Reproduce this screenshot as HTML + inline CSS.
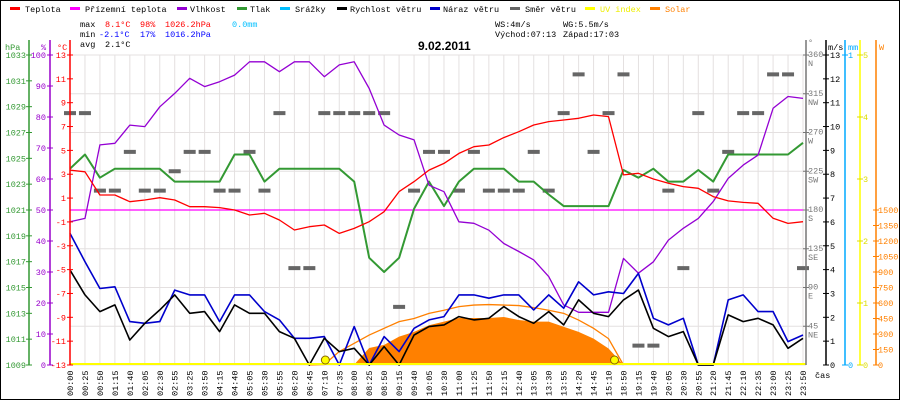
<!DOCTYPE html>
<html><head><meta charset="utf-8"><style>
body{margin:0;background:#fff}
svg{display:block;font-family:"Liberation Mono","DejaVu Sans Mono",monospace}
</style></head><body>
<svg id="c" width="900" height="400" viewBox="0 0 900 400" xmlns="http://www.w3.org/2000/svg">
<rect x="0.5" y="0.5" width="899" height="399" fill="#fff" stroke="#000"/>
<g id="grid"></g>
<g id="series"></g>
<g id="axes"></g>
<g font-size="8.5">
<g><rect x="10" y="7" width="10" height="3" fill="#f00"/><text x="25" y="12">Teplota</text></g>
<g><rect x="70" y="7" width="10" height="3" fill="#f0f"/><text x="85" y="12">Přízemní teplota</text></g>
<g><rect x="177" y="7" width="10" height="3" fill="#9400d3"/><text x="190" y="12">Vlhkost</text></g>
<g><rect x="237" y="7" width="10" height="3" fill="#339933"/><text x="250" y="12">Tlak</text></g>
<g><rect x="280" y="7" width="10" height="3" fill="#00bfff"/><text x="295" y="12">Srážky</text></g>
<g><rect x="337" y="7" width="10" height="3" fill="#000"/><text x="350" y="12">Rychlost větru</text></g>
<g><rect x="430" y="7" width="10" height="3" fill="#0000cc"/><text x="443" y="12">Náraz větru</text></g>
<g><rect x="510" y="7" width="10" height="3" fill="#666"/><text x="525" y="12">Směr větru</text></g>
<g><rect x="585" y="7" width="10" height="3" fill="#ff0"/><text x="600" y="12" fill="#ee0">UV index</text></g>
<g><rect x="650" y="7" width="10" height="3" fill="#ff8000"/><text x="665" y="12" fill="#ff8000">Solar</text></g>
</g>
<g font-size="8.5">
<text x="80" y="27">max</text><text x="105" y="27" fill="#f00">8.1°C</text><text x="140" y="27" fill="#f00">98%</text><text x="165" y="27" fill="#f00">1026.2hPa</text><text x="232" y="27" fill="#00bfff">0.0mm</text>
<text x="80" y="37">min</text><text x="99" y="37" fill="#00f">-2.1°C</text><text x="140" y="37" fill="#00f">17%</text><text x="165" y="37" fill="#00f">1016.2hPa</text>
<text x="80" y="47">avg</text><text x="105" y="47">2.1°C</text>
<text x="495" y="27">WS:4m/s</text><text x="563" y="27">WG:5.5m/s</text>
<text x="495" y="37">Východ:07:13</text><text x="563" y="37">Západ:17:03</text>
</g>
<text x="418" y="50" font-size="12" font-weight="bold" font-family="Liberation Sans, sans-serif">9.02.2011</text>
<text x="815" y="378" font-size="8.5">čas</text>
</svg>
<script>
const labels=["00:00","00:25","00:50","01:15","01:40","02:05","02:30","02:55","03:25","03:50","04:15","04:40","05:05","05:30","05:55","06:20","06:45","07:10","07:35","08:00","08:25","08:50","09:15","09:40","10:05","10:30","11:00","11:25","11:50","12:15","12:40","13:05","13:30","13:55","14:20","14:45","15:10","18:50","19:15","19:40","20:05","20:30","20:55","21:20","21:45","22:10","22:35","23:00","23:25","23:50"];
const temp=[3.35,3.2,1.26,1.26,0.7,0.84,1.03,0.84,0.28,0.28,0.2,0.0,-0.42,-0.28,-0.84,-1.68,-1.4,-1.26,-1.96,-1.54,-0.98,-0.14,1.54,2.38,3.35,3.91,4.75,5.31,5.45,6.07,6.57,7.13,7.41,7.55,7.69,7.97,7.83,2.94,3.08,2.6,2.24,1.96,1.82,1.12,0.76,0.64,0.56,-0.7,-1.12,-0.98];
const groundTemp=[0,0,0,0,0,0,0,0,0,0,0,0,0,0,0,0,0,0,0,0,0,0,0,0,0,0,0,0,0,0,0,0,0,0,0,0,0,0,0,0,0,0,0,0,0,0,0,0,0,0];
const hum=[46.2,47.3,71,71.5,77.4,76.9,83.3,87.6,92.5,89.8,91.4,93.5,97.8,97.8,94.6,97.8,97.8,93,96.8,97.8,89.2,77.4,74.2,72.6,58,55.9,46.2,45.7,43.5,39.2,36.6,33.9,28.5,19.4,17,17,17,34.4,29.6,33.3,40.3,44.1,47.3,52.7,60.2,64.5,67.7,82.8,86.6,86];
const pres=[1024.2,1025.3,1023.5,1024.2,1024.2,1024.2,1024.2,1023.2,1023.2,1023.2,1023.2,1025.3,1025.3,1023.2,1024.2,1024.2,1024.2,1024.2,1024.2,1023.2,1017.3,1016.2,1017.3,1021.1,1023.2,1021.3,1023.2,1024.2,1024.2,1024.2,1023.2,1023.2,1022.2,1021.3,1021.3,1021.3,1021.3,1024.1,1023.5,1024.2,1023.2,1023.2,1024.1,1023.2,1025.3,1025.3,1025.3,1025.3,1025.3,1026.2];
const wind=[3.98,2.94,2.24,2.52,1.05,1.75,2.31,2.94,2.17,2.24,1.4,2.52,2.17,2.17,1.4,1.12,0,1.12,0.56,0.7,0,0.77,0,1.26,1.61,1.68,2.03,1.89,1.96,2.45,2.03,1.75,2.24,1.68,2.73,2.17,2.03,2.73,3.14,1.54,1.19,1.4,0,0,2.1,1.82,1.96,1.68,0.7,1.12];
const gust=[5.52,4.33,3.21,3.28,1.82,1.75,1.82,3.14,2.94,2.94,1.82,2.94,2.94,2.24,1.89,1.12,1.12,1.19,0,1.61,0,1.19,0.56,1.54,1.89,2.03,2.94,2.94,2.8,2.94,2.94,2.31,2.94,2.38,3.49,2.94,3.07,3.0,3.84,1.96,1.68,1.96,0,0,2.73,2.94,2.24,2.24,0.98,1.26];
const dir=[292.5,292.5,202.5,202.5,247.5,202.5,202.5,225,247.5,247.5,202.5,202.5,247.5,202.5,292.5,112.5,112.5,292.5,292.5,292.5,292.5,292.5,67.5,202.5,247.5,247.5,202.5,247.5,202.5,202.5,202.5,247.5,202.5,292.5,337.5,247.5,292.5,337.5,22.5,22.5,202.5,112.5,292.5,202.5,247.5,292.5,292.5,337.5,337.5,112.5];
const solar=[0,0,0,0,0,0,0,0,0,0,0,0,0,0,0,0,0,0,0,5,165,195,275,320,385,420,455,455,455,465,435,420,420,370,320,255,160,0,0,0,0,0,0,0,0,0,0,0,0,0];
const solarMax=[0,0,0,0,0,0,0,0,0,0,0,0,0,0,0,0,0,5,130,210,290,355,420,450,500,530,565,580,585,580,575,555,530,500,435,355,255,0,0,0,0,0,0,0,0,0,0,0,0,0];
const sunEvents=[17.07,36.4];
const pressTicks=[1033,1031,1029,1027,1025,1023,1021,1019,1017,1015,1013,1011,1009];
const humTicks=[100,90,80,70,60,50,40,30,20,10,0];
const tempTicks=[13,11,9,7,5,3,1,-1,-3,-5,-7,-9,-11,-13];
const dirTicks=[360,315,270,225,180,135,90,45];
const dirNames=["N","NW","W","SW","S","SE","E","NE"];
const windTicks=[0,1,2,3,4,5,6,7,8,9,10,11,12,13];
const uvTicks=[0,1,2,3,4,5];
const solarTicks=[0,150,300,450,600,750,900,1050,1200,1350,1500];

const NS="http://www.w3.org/2000/svg";
const X0=70,DX=(803-70)/49,TOP=55,BOT=365,H=310;
const xAt=i=>X0+i*DX;
const yT=t=>TOP+(13-t)*H/26;
const yH=h=>BOT-h*H/100;
const yP=p=>BOT-(p-1009)*H/24;
const yW=v=>BOT-v*H/13;
const yD=d=>BOT-d*H/360;
const yS=w=>BOT-w*H/3000;
const yU=u=>BOT-u*H/5;
function mk(tag,attrs,parent,txt){const e=document.createElementNS(NS,tag);for(const k in attrs)e.setAttribute(k,attrs[k]);if(txt!==undefined)e.textContent=txt;parent.appendChild(e);return e;}
const grid=document.getElementById('grid'),ser=document.getElementById('series'),ax=document.getElementById('axes');

for(let i=0;i<labels.length;i++){
  const l=mk('line',{x1:xAt(i),x2:xAt(i),y1:TOP,y2:BOT,stroke:'#e4e0e0'},grid);
  
  
  const t=mk('text',{x:0,y:0,'font-size':'8.5',transform:`translate(${xAt(i)+3},396) rotate(-90)`},ax,labels[i]);
  
  
}
for(let k=0;k<=8;k++){
  const y=TOP+k*H/8;
  const l=mk('line',{x1:X0,x2:806,y1:y,y2:y,stroke:'#e4e0e0'},grid);
  
  
}

let pts=[[xAt(0),BOT]];solar.forEach((v,i)=>pts.push([xAt(i),yS(v)]));pts.push([xAt(solar.length-1),BOT]);
const sf=mk('polygon',{points:pts.map(p=>p.join(',')).join(' '),fill:'#ff8000',stroke:'none'},ser);


let mp=[];let first=solarMax.findIndex(v=>v>0);let last=solarMax.length-1;while(last>0&&solarMax[last]===0)last--;
for(let i=Math.max(first-1,0);i<=last+1;i++)mp.push([xAt(i),yS(solarMax[i])]);
const sm=mk('polyline',{points:mp.map(p=>p.join(',')).join(' '),fill:'none',stroke:'#ff8000','stroke-width':1.3},ser);



dir.forEach((d,i)=>{
  const r=mk('rect',{x:xAt(i)-6,y:yD(d)-2,width:12,height:4,fill:'#666'},ser);
  
  
});

function line(arr,fy,color,w,name){
  const p=arr.map((v,i)=>xAt(i).toFixed(1)+','+fy(v).toFixed(1)).join(' ');
  const e=mk('polyline',{points:p,fill:'none',stroke:color,'stroke-width':w,'stroke-linejoin':'round'},ser);
  
  
}
line(groundTemp,yT,'#ff00ff',1.2,'ground-temperature-line');
line(pres,yP,'#339933',2,'pressure-line');
line(hum,yH,'#9400d3',1.3,'humidity-line');
line(temp,yT,'#ff0000',1.3,'temperature-line');
line(gust,yW,'#0000cc',1.6,'wind-gust-line');
line(wind,yW,'#000000',1.6,'wind-speed-line');
const uv=mk('line',{x1:X0,x2:806,y1:BOT-1,y2:BOT-1,stroke:'#ffff00','stroke-width':2},ser);


sunEvents.forEach(s=>{
  const c=mk('circle',{cx:xAt(s),cy:BOT-5,r:4,fill:'#ffff00',stroke:'#886600','stroke-width':1},ser);
  
  
});

function axis(x,y1,color,name){const l=mk('line',{x1:x,x2:x,y1:y1,y2:BOT,stroke:color,'stroke-width':1.5},ax);}
function tick(x,y,color){mk('line',{x1:x-3,x2:x+3,y1:y,y2:y,stroke:color},ax);}
function lab(x,y,txt,color,anchor,name){const t=mk('text',{x:x,y:y+3,'font-size':'8.5',fill:color,'text-anchor':anchor},ax,txt);}
axis(29,40,'#339933','pressure-axis');axis(50,40,'#9900cc','humidity-axis');axis(70,40,'#ff0000','temperature-axis');
axis(806,40,'#777','direction-axis');axis(826,40,'#000','wind-axis');axis(845,40,'#00aaff','rain-axis');axis(860,40,'#ffff00','uv-axis');axis(876,40,'#ff8000','solar-axis');
lab(5,47,'hPa','#339933','start','pressure-axis-title');lab(41,47,'%','#9900cc','start','humidity-axis-title');lab(57,47,'°C','#ff0000','start','temperature-axis-title');
lab(808,42,'°','#777','start','direction-axis-title');lab(828,47,'m/s','#000','start','wind-axis-title');lab(848,47,'mm','#00aaff','start','rain-axis-title');lab(879,47,'W','#ff8000','start','solar-axis-title');
pressTicks.forEach(p=>{tick(29,yP(p),'#339933');lab(26,yP(p),String(p),'#339933','end','pressure-tick-label');});
humTicks.forEach(h=>{tick(50,yH(h),'#9900cc');lab(46,yH(h),String(h),'#9900cc','end','humidity-tick-label');});
tempTicks.forEach(t=>{tick(70,yT(t),'#ff0000');lab(66,yT(t),String(t),'#ff0000','end','temperature-tick-label');});
dirTicks.forEach((d,i)=>{tick(806,yD(d),'#777');lab(808,yD(d)-1,String(d),'#777','start','direction-tick-label');lab(808,yD(d)+8,dirNames[i],'#777','start','direction-name-label');});
windTicks.forEach(v=>{tick(826,yW(v),'#000');lab(830,yW(v),String(v),'#000','start','wind-tick-label');});
[0,1].forEach(m=>{tick(845,BOT-m*H,'#00aaff');lab(848,BOT-m*H,String(m),'#00aaff','start','rain-tick-label');});
uvTicks.forEach(u=>{tick(860,yU(u),'#dddd00');lab(863,yU(u),String(u),'#dddd00','start','uv-tick-label');});
solarTicks.forEach(w=>{tick(876,yS(w),'#ff8000');lab(878,yS(w),String(w),'#ff8000','start','solar-tick-label');});
</script>
</body></html>
